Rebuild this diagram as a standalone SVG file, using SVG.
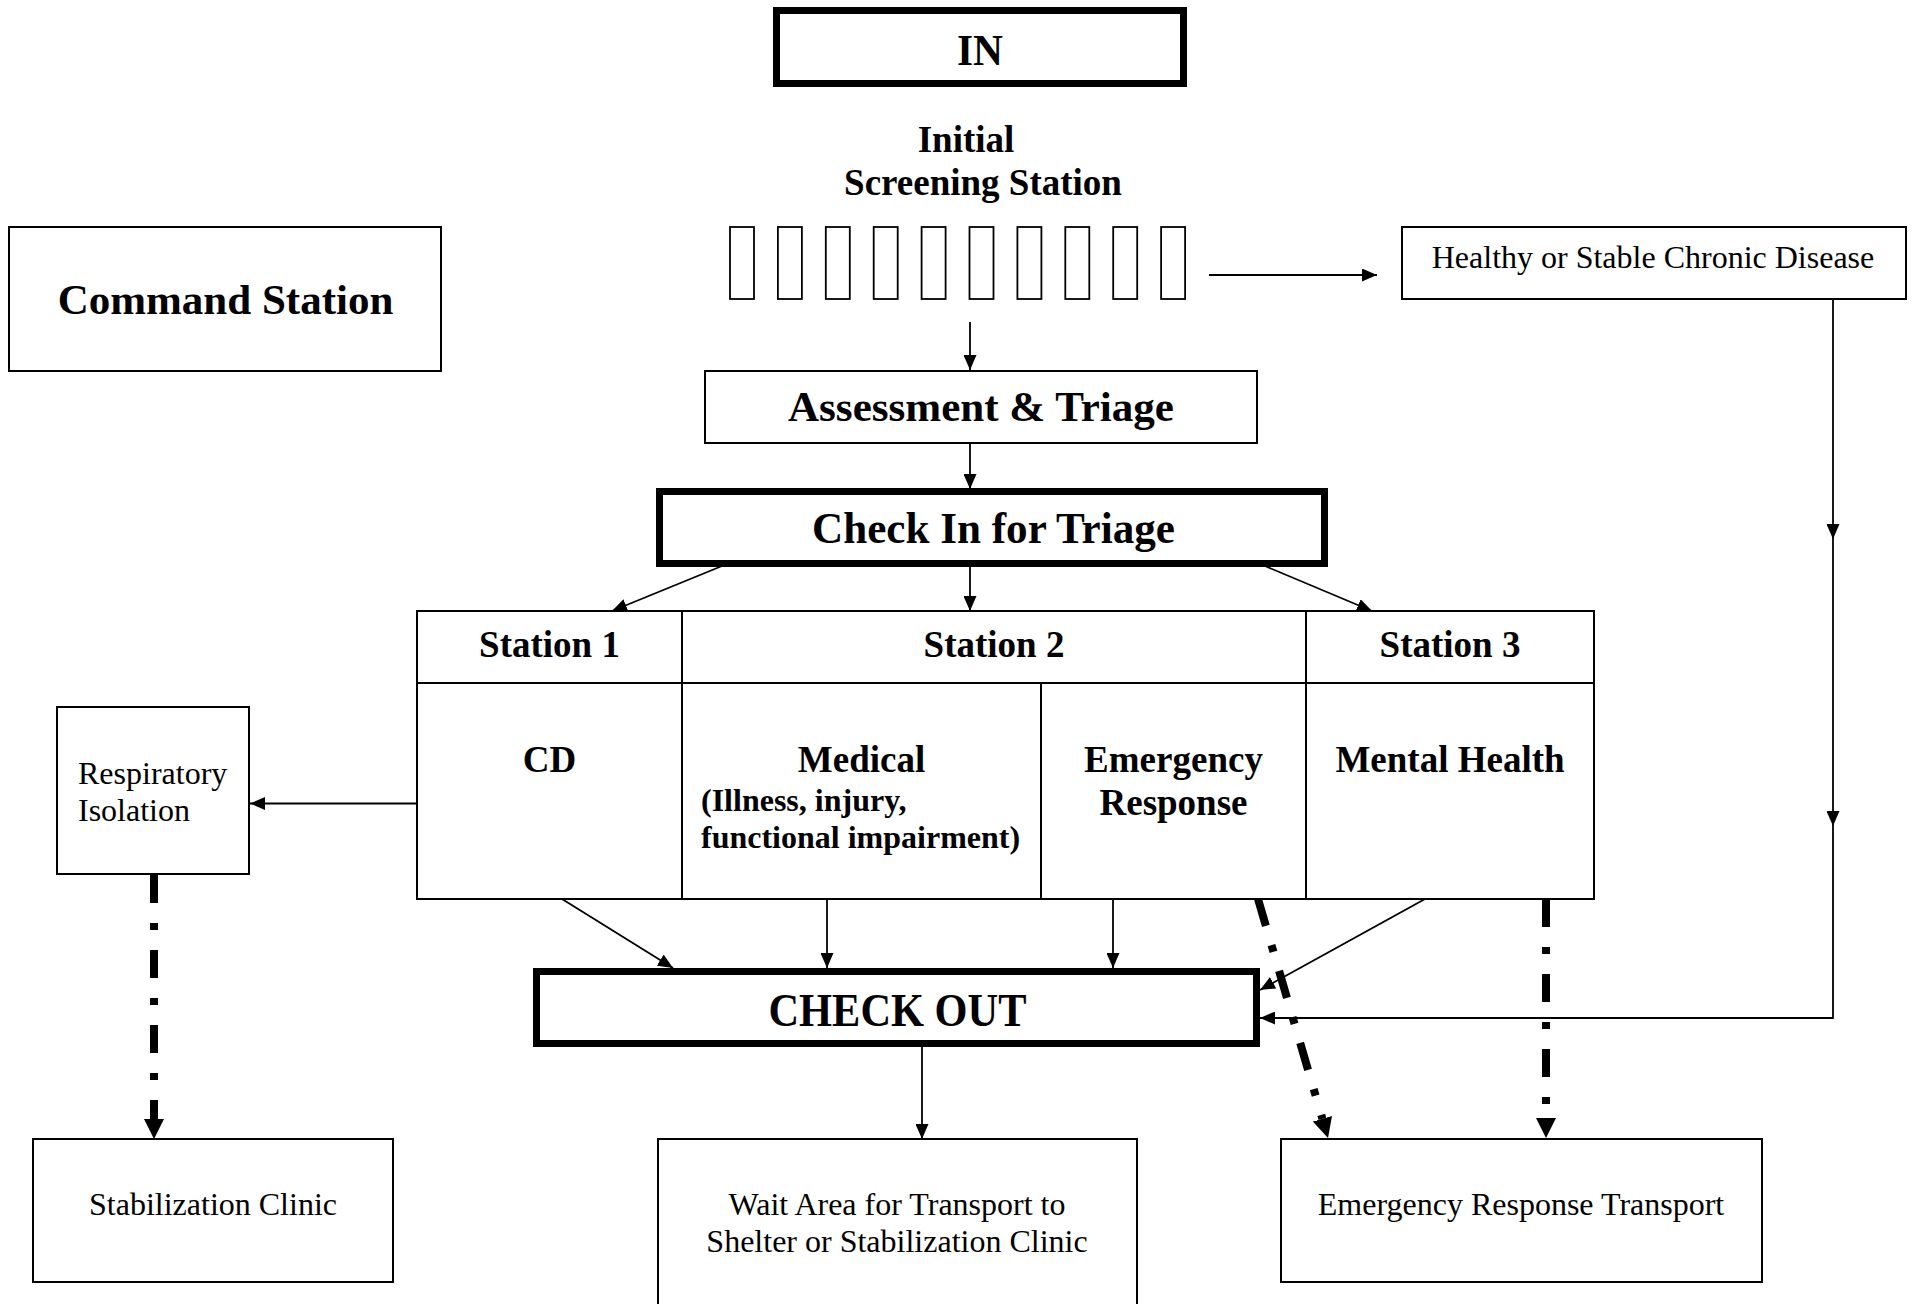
<svg xmlns="http://www.w3.org/2000/svg" width="1915" height="1304" viewBox="0 0 1915 1304">
<style>
.box{fill:#fff;stroke:#000;stroke-width:2}
.thick{fill:#fff;stroke:#000;stroke-width:7}
.slot{fill:#fff;stroke:#000;stroke-width:1.8}
.b{font-family:"Liberation Serif","Times New Roman",serif;font-weight:bold;text-anchor:middle;fill:#000}
.r{font-family:"Liberation Serif","Times New Roman",serif;text-anchor:middle;fill:#000;font-size:32px}
.conn{stroke:#000;stroke-width:1.8;fill:none;marker-end:url(#ah)}
.dd{stroke:#000;stroke-width:8;fill:none;stroke-dasharray:28 20 7 20;marker-end:url(#ahb)}
</style>
<defs>
<marker id="ah" markerUnits="userSpaceOnUse" markerWidth="16" markerHeight="13" refX="15" refY="6.5" orient="auto"><path d="M0,0 L15,6.5 L0,13 z" fill="#000"/></marker>
<marker id="ahb" markerUnits="userSpaceOnUse" markerWidth="21" markerHeight="21" refX="0" refY="10" orient="auto"><path d="M0,0 L20,10 L0,20 z" fill="#000"/></marker>
</defs>
<rect width="1915" height="1304" fill="#fff"/>

<g id="connectors">
<line class="conn" x1="1209" y1="275" x2="1377" y2="275"/>
<line class="conn" x1="970" y1="322" x2="970" y2="370"/>
<line class="conn" x1="970" y1="443" x2="970" y2="489"/>
<line class="conn" x1="722" y1="566" x2="612" y2="611"/>
<line class="conn" x1="970" y1="567" x2="970" y2="611"/>
<line class="conn" x1="1265" y1="566" x2="1372" y2="611"/>
<line class="conn" x1="416" y1="803.5" x2="250" y2="803.5"/>
<line class="conn" x1="562" y1="899" x2="673" y2="968"/>
<line class="conn" x1="827" y1="899" x2="827" y2="968"/>
<line class="conn" x1="1113" y1="899" x2="1113" y2="968"/>
<line class="conn" x1="1425" y1="899" x2="1260" y2="990"/>
<line class="conn" x1="1833" y1="299" x2="1833" y2="539"/>
<line class="conn" x1="1833" y1="539" x2="1833" y2="826"/>
<polyline class="conn" points="1833,826 1833,1018 1260,1018"/>
<line class="conn" x1="922" y1="1047" x2="922" y2="1139"/>
<line class="dd" x1="154" y1="875" x2="154" y2="1119"/>
<line class="dd" x1="1258" y1="899" x2="1322.4" y2="1118.8"/>
<line class="dd" x1="1546" y1="899" x2="1546" y2="1118"/>
</g>

<g id="in">
<rect class="thick" x="776.5" y="10.5" width="407" height="73"/>
<text class="b" x="980" y="65" font-size="44" textLength="46" lengthAdjust="spacingAndGlyphs">IN</text>
</g>

<g id="screening">
<text class="b" x="966" y="152" font-size="37">Initial</text>
<text class="b" x="983" y="195" font-size="37">Screening Station</text>
<rect class="slot" x="730" y="227" width="24" height="72"/>
<rect class="slot" x="777.9" y="227" width="24" height="72"/>
<rect class="slot" x="825.8" y="227" width="24" height="72"/>
<rect class="slot" x="873.7" y="227" width="24" height="72"/>
<rect class="slot" x="921.6" y="227" width="24" height="72"/>
<rect class="slot" x="969.5" y="227" width="24" height="72"/>
<rect class="slot" x="1017.4" y="227" width="24" height="72"/>
<rect class="slot" x="1065.3" y="227" width="24" height="72"/>
<rect class="slot" x="1113.2" y="227" width="24" height="72"/>
<rect class="slot" x="1161.1" y="227" width="24" height="72"/>
</g>

<g id="command">
<rect class="box" x="9" y="227" width="432" height="144"/>
<text class="b" x="225.5" y="314" font-size="43">Command Station</text>
</g>

<g id="healthy">
<rect class="box" x="1402" y="227" width="504" height="72"/>
<text class="r" x="1653" y="268">Healthy or Stable Chronic Disease</text>
</g>

<g id="assessment">
<rect class="box" x="705" y="371" width="552" height="72"/>
<text class="b" x="981" y="421" font-size="43" textLength="386" lengthAdjust="spacingAndGlyphs">Assessment &amp; Triage</text>
</g>

<g id="checkin">
<rect class="thick" x="659.5" y="491.5" width="665" height="72"/>
<text class="b" x="993.5" y="543" font-size="44" textLength="363" lengthAdjust="spacingAndGlyphs">Check In for Triage</text>
</g>

<g id="stations">
<rect class="box" x="417" y="611" width="1177" height="288"/>
<line x1="417" y1="683" x2="1594" y2="683" stroke="#000" stroke-width="2"/>
<line x1="682" y1="611" x2="682" y2="899" stroke="#000" stroke-width="2"/>
<line x1="1306" y1="611" x2="1306" y2="899" stroke="#000" stroke-width="2"/>
<line x1="1041" y1="683" x2="1041" y2="899" stroke="#000" stroke-width="2"/>
<text class="b" x="549.5" y="657" font-size="37">Station 1</text>
<text class="b" x="994" y="657" font-size="37">Station 2</text>
<text class="b" x="1450" y="657" font-size="37">Station 3</text>
<text class="b" x="549.5" y="772" font-size="37">CD</text>
<text class="b" x="861.5" y="772" font-size="37">Medical</text>
<text class="b" x="701" y="811" font-size="32" style="text-anchor:start">(Illness, injury,</text>
<text class="b" x="701" y="848" font-size="32" style="text-anchor:start">functional impairment)</text>
<text class="b" x="1173.5" y="772" font-size="37">Emergency</text>
<text class="b" x="1173.5" y="815" font-size="37">Response</text>
<text class="b" x="1450" y="772" font-size="37">Mental Health</text>
</g>

<g id="respiratory">
<rect class="box" x="57" y="707" width="192" height="167"/>
<text class="r" x="78" y="784" style="text-anchor:start">Respiratory</text>
<text class="r" x="78" y="821" style="text-anchor:start">Isolation</text>
</g>

<g id="checkout">
<rect class="thick" x="536.5" y="971.5" width="720" height="72"/>
<text class="b" x="897.5" y="1026" font-size="46" textLength="258" lengthAdjust="spacingAndGlyphs">CHECK OUT</text>
</g>

<g id="stabilization">
<rect class="box" x="33" y="1139" width="360" height="143"/>
<text class="r" x="213" y="1215">Stabilization Clinic</text>
</g>

<g id="wait">
<rect class="box" x="658" y="1139" width="479" height="200"/>
<text class="r" x="897" y="1215">Wait Area for Transport to</text>
<text class="r" x="897" y="1252">Shelter or Stabilization Clinic</text>
</g>

<g id="ert">
<rect class="box" x="1281" y="1139" width="481" height="143"/>
<text class="r" x="1521" y="1215">Emergency Response Transport</text>
</g>
</svg>
